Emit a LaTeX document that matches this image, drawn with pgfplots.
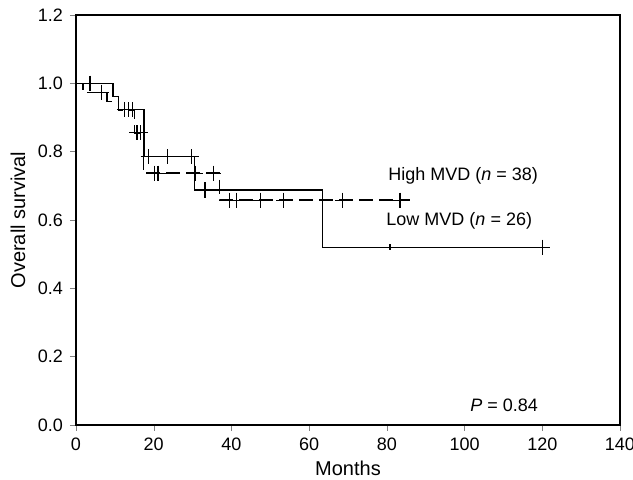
\documentclass[border=0pt]{standalone}
\usepackage{pgfplots}
\pgfplotsset{compat=1.18}
\usepackage{fontspec}
\setmainfont{Liberation Sans}
\begin{document}
\begin{tikzpicture}
\begin{axis}[
  scale only axis, width=272pt, height=205pt,
  xmin=0, xmax=140, ymin=0, ymax=1.2,
  xtick={0,20,...,140}, ytick={0,0.2,...,1.2},
  yticklabel style={/pgf/number format/.cd,fixed,fixed zerofill,precision=1},
  /pgf/number format/assume math mode=true,
  tick label style={font=\fontsize{9}{10}\selectfont},
  label style={font=\fontsize{9}{10}\selectfont},
  tick align=outside, major tick length=3pt,
  xtick pos=bottom, ytick pos=left,
  axis line style={line width=0.9pt},
  every axis y label/.style={at={(axis description cs:0,0.5)}, xshift=-29pt, rotate=90, anchor=center},
  every axis x label/.style={at={(axis description cs:0.5,0)}, yshift=-21.5pt, anchor=center},
  xlabel={Months}, ylabel={Overall survival},
]
% Low MVD (solid)
\addplot[black, line width=0.7pt, const plot, mark=none] coordinates {
(0,1.0) (9.5,0.962) (11,0.923) (17.5,0.785) (30.5,0.688) (63.5,0.52) (122,0.52)};
% High MVD (dashed)
\addplot[black, line width=0.7pt, const plot, mark=none, dash pattern=on 7pt off 3pt] coordinates {
(0,1.0) (1.8,0.974) (8,0.947) (11,0.921) (15,0.855) (17.3,0.737) (37,0.658) (86,0.658)};
% censor marks, Low MVD
\addplot[black, only marks, mark=+, mark size=3.8pt, line width=0.6pt] coordinates {
(3.6,1.0) (12.5,0.923) (13.5,0.923) (14.5,0.923) (18.6,0.785) (23.5,0.785) (29.8,0.785) (33.2,0.688) (120,0.52)};
\addplot[black, only marks, mark=|, mark size=1.5pt, line width=0.6pt] coordinates {(80.8,0.52)};
% censor marks, High MVD
\addplot[black, only marks, mark=+, mark size=3.8pt, line width=0.6pt] coordinates {
(6.6,0.974) (15.7,0.855) (16.5,0.855) (20.3,0.737) (21.1,0.737) (30.6,0.737) (35.3,0.737)
(39.6,0.658) (41.4,0.658) (47.5,0.658) (53.5,0.658) (68.6,0.658) (83.4,0.658)};
\node[anchor=west, font=\fontsize{9}{10}\selectfont, inner sep=0pt] at (axis cs:80.3,0.729) {High MVD (\textit{n} = 38)};
\node[anchor=west, font=\fontsize{9}{10}\selectfont, inner sep=0pt] at (axis cs:79.8,0.597) {Low MVD (\textit{n} = 26)};
\node[anchor=east, font=\fontsize{9}{10}\selectfont, inner sep=0pt] at (axis cs:119,0.058) {\textit{P} = 0.84};
\end{axis}
\pgfresetboundingbox
\path[use as bounding box] ([xshift=-38pt,yshift=-27.5pt]current axis.south west) rectangle ([xshift=6.5pt,yshift=7.5pt]current axis.north east);
\end{tikzpicture}
\end{document}
